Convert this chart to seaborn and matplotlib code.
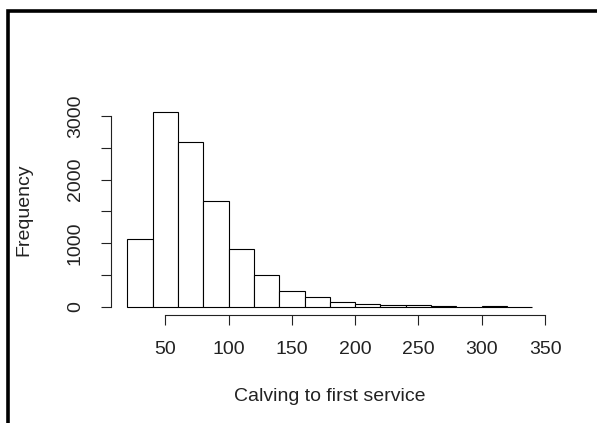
import matplotlib
matplotlib.use("Agg")
import matplotlib.pyplot as plt
from matplotlib.lines import Line2D
import seaborn as sns
import pandas as pd
import numpy as np

# histogram bins (days) and counts
bin_edges = [20, 40, 60, 80, 100, 120, 140, 160, 180, 200, 220, 240, 260, 280, 300, 320, 340]
counts = [1070, 3060, 2590, 1665, 910, 500, 255, 160, 85, 47, 32, 30, 16, 3, 16, 2]
x_ticks = [50, 100, 150, 200, 250, 300, 350]
y_ticks = [0, 500, 1000, 1500, 2000, 2500, 3000]
y_labels = ["0", "", "1000", "", "2000", "", "3000"]

sns.set_theme(style="white")
plt.rcParams['font.family'] = ['Liberation Sans', 'DejaVu Sans']

df = pd.DataFrame({
    "value": [(a + b) / 2 for a, b in zip(bin_edges[:-1], bin_edges[1:])],
    "count": counts,
})

fig = plt.figure(figsize=(5.97, 4.23), dpi=100)
ax = fig.add_axes([0.186, 0.2558, 0.733, 0.4976])

sns.histplot(data=df, x="value", weights="count", bins=bin_edges,
             color="white", edgecolor="black", linewidth=0.8, alpha=1,
             ax=ax)

xmin, xmax = bin_edges[0], bin_edges[-1]
ymax = max(counts)
ax.set_xlim(xmin - 0.04 * (xmax - xmin), xmax + 0.04 * (xmax - xmin))
ax.set_ylim(-0.04 * ymax, ymax * 1.04)

for s in ["top", "right"]:
    ax.spines[s].set_visible(False)
ax.spines["left"].set_bounds(0, 3000)
ax.spines["bottom"].set_bounds(50, 350)
for s in ["left", "bottom"]:
    ax.spines[s].set_color("#222222")
    ax.spines[s].set_linewidth(0.8)

fs = 14
ax.set_xticks(x_ticks)
ax.set_yticks(y_ticks)
ax.set_yticklabels(y_labels)
ax.tick_params(axis="both", which="major", direction="out", length=7.5,
               width=0.8, color="#222222", labelsize=fs, labelcolor="#222222",
               bottom=True, left=True)
ax.tick_params(axis="x", pad=11.5)
ax.tick_params(axis="y", pad=12)
plt.setp(ax.get_yticklabels(), rotation=90, va="center")

ax.set_xlabel("Calving to first service", fontsize=fs, color="#222222", va="center")
ax.set_ylabel("Frequency", fontsize=fs, color="#222222", va="center")
ax.xaxis.set_label_coords(0.5, -0.386)
ax.yaxis.set_label_coords(-0.199, 0.5)
ax.grid(False)

# black frame on the left and top of the image
fig.add_artist(Line2D([7.5 / 597, 7.5 / 597, 1.0], [0.0, 1 - 11.5 / 423, 1 - 11.5 / 423],
                      transform=fig.transFigure, color="black", linewidth=2.6,
                      solid_joinstyle="miter"))

fig.savefig("out.png", dpi=100, facecolor="white")
